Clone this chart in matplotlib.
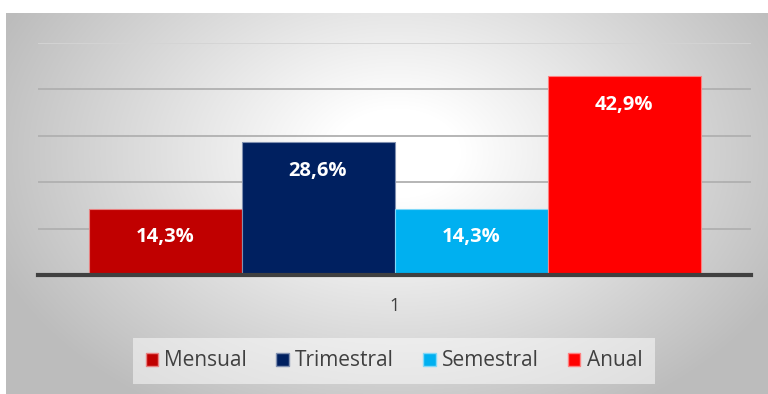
import numpy as np
import matplotlib
matplotlib.use('Agg')
import matplotlib.pyplot as plt
from matplotlib.patches import Patch

# Datos
categorias = ['1']
series = ['Mensual', 'Trimestral', 'Semestral', 'Anual']
valores = [0.143, 0.286, 0.143, 0.429]
etiquetas = ['14,3%', '28,6%', '14,3%', '42,9%']
colores = ['#C00000', '#002060', '#00B0F0', '#FF0000']
bordes = ['#e88080', '#8090b0', '#80d8f8', '#ff8080']

plt.rcParams['font.family'] = ['Open Sans', 'DejaVu Sans']

fig = plt.figure(figsize=(7.68, 3.94), dpi=100)
fig.patch.set_facecolor('white')

# Fondo con degradado radial
bg = fig.add_axes([6 / 768, 0, 1 - 6 / 768, 1 - 13 / 394])
h, w = 381, 762
yy, xx = np.mgrid[0:h, 0:w]
cx, cy = 390, 140
r = np.sqrt(((xx - cx) / 430) ** 2 + ((yy - cy) / 300) ** 2)
r = np.clip((r - 0.15) / 0.85, 0, 1)
g = 1 - r * (1 - 0.74)
bg.imshow(np.dstack([g, g, g]), aspect='auto', extent=[0, 1, 0, 1])
bg.set_axis_off()

ax = fig.add_axes([38 / 768, 1 - 275 / 394, 713 / 768, (275 - 43) / 394])
ax.patch.set_alpha(0)

ancho = 612 / 713 / 4
x = np.arange(len(categorias))
for i, (s, v, e, c, b) in enumerate(zip(series, valores, etiquetas, colores, bordes)):
    pos = x + (i - 1.5) * ancho
    ax.bar(pos, [v], width=ancho, color=c, edgecolor=b, linewidth=0.8, zorder=3)
    ax.text(pos[0], v - 0.062, e, ha='center', va='center', color='white',
            fontsize=14.5, fontweight='bold', zorder=4)

ax.set_xlim(-0.5, 0.5)
ax.set_ylim(0, 0.5)
ax.set_yticks(np.arange(0.1, 0.41, 0.1))
ax.yaxis.grid(True, color='#b0b0b0', linewidth=1.3, zorder=0)
ax.axhline(0.5, color='#d4d4d4', linewidth=1.3, zorder=0)
ax.tick_params(axis='y', left=False, labelleft=False)
ax.set_xticks(x)
ax.set_xticklabels(categorias, fontsize=13, color='#404040')
ax.tick_params(axis='x', length=0, pad=16)
for lado in ['top', 'right', 'left']:
    ax.spines[lado].set_visible(False)
ax.spines['bottom'].set_color('#404040')
ax.spines['bottom'].set_linewidth(3)
ax.spines['bottom'].set_zorder(5)

handles = [Patch(facecolor=c, edgecolor=b, linewidth=1) for c, b in zip(colores, bordes)]
leg = fig.legend(handles, series, loc='center', bbox_to_anchor=(394 / 768, 1 - 361 / 394),
                 ncol=4, frameon=True, fontsize=15, handlelength=0.6, handleheight=0.6,
                 handletextpad=0.3, columnspacing=1.4, borderpad=0.6, borderaxespad=0,
                 fancybox=False)
leg.get_frame().set_facecolor('white')
leg.get_frame().set_alpha(0.5)
leg.get_frame().set_edgecolor('none')
for t in leg.get_texts():
    t.set_color('#404040')

fig.savefig('out.png', dpi=100)
